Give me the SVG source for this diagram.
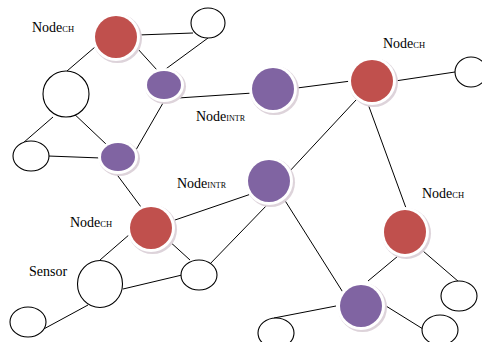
<svg xmlns="http://www.w3.org/2000/svg" width="482" height="342" viewBox="0 0 482 342">
  <style>
    .edge { stroke: #000; stroke-width: 1; fill: none; }
    .plain { fill: #fff; stroke: #000; stroke-width: 1.1; }
    .halo { fill: #ddd3da; }
    .ring { fill: #fff; }
    .ch { fill: #c0504d; }
    .intr { fill: #8064a2; }
  </style>

  <rect width="482" height="342" fill="#fff"/>

  <!-- links between nodes -->
  <g id="connectors" class="edge">
    <line x1="95" y1="47" x2="67" y2="71"/>
    <line x1="138" y1="35" x2="193" y2="33"/>
    <line x1="137" y1="48" x2="157" y2="70"/>
    <line x1="208" y1="38" x2="163" y2="71"/>
    <line x1="178" y1="98" x2="253" y2="93"/>
    <line x1="163" y1="103" x2="133" y2="155"/>
    <line x1="53" y1="117" x2="23" y2="143"/>
    <line x1="70" y1="110" x2="107" y2="145"/>
    <line x1="48" y1="156" x2="101" y2="158"/>
    <line x1="297" y1="88" x2="351" y2="81"/>
    <line x1="395" y1="81" x2="455" y2="72"/>
    <line x1="356" y1="100" x2="288" y2="173"/>
    <line x1="368" y1="104" x2="406" y2="208"/>
    <line x1="115" y1="172" x2="144" y2="211"/>
    <line x1="175" y1="220" x2="251" y2="194"/>
    <line x1="130" y1="234" x2="100" y2="260"/>
    <line x1="168" y1="240" x2="190" y2="260"/>
    <line x1="208" y1="266" x2="268" y2="204"/>
    <line x1="123" y1="289" x2="182" y2="275"/>
    <line x1="88" y1="305" x2="40" y2="331"/>
    <line x1="284" y1="199" x2="344" y2="294"/>
    <line x1="398" y1="256" x2="368" y2="281"/>
    <line x1="423" y1="251" x2="459" y2="282"/>
    <line x1="336" y1="306" x2="274" y2="318"/>
    <line x1="386" y1="306" x2="423" y2="329"/>
  </g>

  <!-- cluster heads -->
  <g id="ch1">
    <circle class="halo" cx="117.5" cy="38.5" r="24.5"/>
    <circle class="ring" cx="116" cy="37" r="24"/>
    <circle class="ch" cx="116" cy="37" r="21"/>
  </g>
  <g id="ch2">
    <circle class="halo" cx="373.5" cy="82.5" r="24.5"/>
    <circle class="ring" cx="372" cy="81" r="24"/>
    <circle class="ch" cx="372" cy="81" r="21"/>
  </g>
  <g id="ch3">
    <circle class="halo" cx="152.5" cy="229.5" r="24.5"/>
    <circle class="ring" cx="151" cy="228" r="24"/>
    <circle class="ch" cx="151" cy="228" r="21"/>
  </g>
  <g id="ch4">
    <ellipse class="halo" cx="406.5" cy="233.5" rx="24.5" ry="25.5"/>
    <ellipse class="ring" cx="405" cy="232" rx="24" ry="25"/>
    <ellipse class="ch" cx="405" cy="232" rx="21" ry="22"/>
  </g>

  <!-- intermediate nodes -->
  <g id="intr1">
    <ellipse class="halo" cx="165.5" cy="86.5" rx="20.5" ry="17.5"/>
    <ellipse class="ring" cx="164" cy="85" rx="20" ry="17"/>
    <ellipse class="intr" cx="164" cy="85" rx="17" ry="14"/>
  </g>
  <g id="intr2">
    <ellipse class="halo" cx="119.5" cy="158.5" rx="20.5" ry="17.5"/>
    <ellipse class="ring" cx="118" cy="157" rx="20" ry="17"/>
    <ellipse class="intr" cx="118" cy="157" rx="17" ry="14"/>
  </g>
  <g id="intr3">
    <circle class="halo" cx="274.5" cy="90.5" r="24.5"/>
    <circle class="ring" cx="273" cy="89" r="24"/>
    <circle class="intr" cx="273" cy="89" r="21"/>
  </g>
  <g id="intr4">
    <circle class="halo" cx="270.5" cy="182.5" r="24.5"/>
    <circle class="ring" cx="269" cy="181" r="24"/>
    <circle class="intr" cx="269" cy="181" r="21"/>
  </g>
  <g id="intr5">
    <circle class="halo" cx="362.5" cy="307.5" r="24.5"/>
    <circle class="ring" cx="361" cy="306" r="24"/>
    <circle class="intr" cx="361" cy="306" r="21"/>
  </g>

  <!-- sensor nodes -->
  <g id="s1"><ellipse class="plain" cx="208" cy="23" rx="17" ry="15"/></g>
  <g id="s2"><circle class="plain" cx="66" cy="94" r="23"/></g>
  <g id="s3"><ellipse class="plain" cx="31" cy="156" rx="18" ry="15"/></g>
  <g id="s4"><ellipse class="plain" cx="471" cy="72" rx="16" ry="15"/></g>
  <g id="s5"><ellipse class="plain" cx="100" cy="284" rx="22.5" ry="23.5"/></g>
  <g id="s6"><ellipse class="plain" cx="199" cy="275" rx="18" ry="15"/></g>
  <g id="s7"><ellipse class="plain" cx="28" cy="322" rx="18" ry="15"/></g>
  <g id="s8"><ellipse class="plain" cx="459" cy="296" rx="18" ry="15"/></g>
  <g id="s9"><ellipse class="plain" cx="276" cy="333" rx="18" ry="15"/></g>
  <g id="s10"><ellipse class="plain" cx="440" cy="330" rx="18" ry="15"/></g>

  <!-- labels -->
  <g id="labels" font-family="'Liberation Serif', 'DejaVu Serif', serif" font-size="14" fill="#000">
    <text x="32" y="32">Node<tspan font-size="8.5">CH</tspan></text>
    <text x="383" y="48">Node<tspan font-size="8.5">CH</tspan></text>
    <text x="196" y="121">Node<tspan font-size="8">INTR</tspan></text>
    <text x="177" y="188">Node<tspan font-size="8">INTR</tspan></text>
    <text x="70" y="227">Node<tspan font-size="8.5">CH</tspan></text>
    <text x="29" y="276">Sensor</text>
    <text x="422" y="198">Node<tspan font-size="8.5">CH</tspan></text>
  </g>
</svg>
